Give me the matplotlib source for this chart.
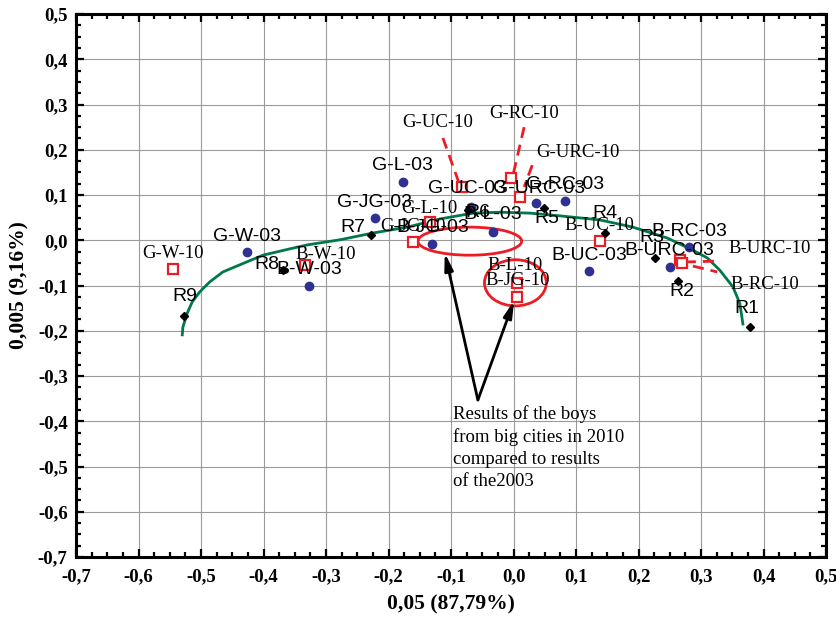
import matplotlib
matplotlib.use("Agg")
import matplotlib.pyplot as plt
from matplotlib.patches import Ellipse
from matplotlib.ticker import MultipleLocator, FuncFormatter

# --- data ---
names_03 = ["G-W-03", "B-W-03", "G-L-03", "G-JG-03", "B-JG-03", "B-L-03",
            "G-UC-03", "G-URC-03", "G-RC-03", "B-UC-03", "B-URC-03", "B-RC-03"]
x_03 = [-0.426, -0.327, -0.177, -0.222, -0.130, -0.033,
        -0.068, 0.036, 0.082, 0.121, 0.250, 0.281]
y_03 = [-0.026, -0.101, 0.129, 0.049, -0.008, 0.018,
        0.073, 0.082, 0.087, -0.068, -0.059, -0.015]

names_10 = ["G-W-10", "B-W-10", "G-L-10", "G-JG-10", "B-UC-10", "B-L-10",
            "B-JG-10", "G-UC-10", "G-RC-10", "G-URC-10", "B-URC-10", "B-RC-10"]
x_10 = [-0.545, -0.334, -0.134, -0.161, 0.138, 0.006,
        0.006, -0.082, -0.004, 0.010, 0.266, 0.270]
y_10 = [-0.064, -0.055, 0.040, -0.004, -0.002, -0.095,
        -0.125, 0.118, 0.138, 0.096, -0.044, -0.050]

names_r = ["R1", "R2", "R3", "R4", "R5", "R6", "R7", "R8", "R9"]
x_r = [0.378, 0.263, 0.226, 0.146, 0.049, -0.073, -0.228, -0.369, -0.527]
y_r = [-0.192, -0.090, -0.039, 0.016, 0.071, 0.067, 0.012, -0.066, -0.167]

curve_x = [-0.530, -0.529, -0.522, -0.514, -0.502, -0.486, -0.465, -0.434,
           -0.401, -0.358, -0.329, -0.278, -0.225, -0.170, -0.118, -0.065,
           -0.022, 0.026, 0.074, 0.138, 0.191, 0.246, 0.287, 0.310,
           0.330, 0.351, 0.362, 0.367]
curve_y = [-0.209, -0.192, -0.161, -0.136, -0.114, -0.092, -0.070, -0.052,
           -0.033, -0.019, -0.010, 0.001, 0.016, 0.029, 0.047, 0.060,
           0.062, 0.060, 0.054, 0.045, 0.029, 0.005, -0.022, -0.039,
           -0.066, -0.103, -0.139, -0.185]

note_text = "Results of the boys\nfrom big cities in 2010\ncompared to results\nof the2003"

SANS = "Liberation Sans"
SERIF = "Liberation Serif"
BLUE = "#2E3192"
RED = "#ED1C24"
GREEN = "#00784A"

fig = plt.figure(figsize=(8.37, 6.23), dpi=100)
ax = fig.add_axes([0.0908, 0.1059, 0.8961, 0.8716])

ax.set_xlim(-0.7, 0.5)
ax.set_ylim(-0.7, 0.5)
ax.xaxis.set_major_locator(MultipleLocator(0.1))
ax.yaxis.set_major_locator(MultipleLocator(0.1))
ax.xaxis.set_minor_locator(MultipleLocator(0.025))
ax.yaxis.set_minor_locator(MultipleLocator(0.025))
fmt = FuncFormatter(lambda v, p: f"{round(v, 1) + 0.0:.1f}".replace(".", ","))
ax.xaxis.set_major_formatter(fmt)
ax.yaxis.set_major_formatter(fmt)
ax.grid(True, which="major", color="#9a9a9a", lw=0.8)
ax.set_axisbelow(True)
ax.tick_params(which="both", direction="in", top=True, right=True, width=1.6)
ax.tick_params(which="major", length=6)
ax.tick_params(which="minor", length=3.5)
ax.tick_params(axis="x", pad=8)
ax.tick_params(axis="y", pad=6)
for lab in ax.get_xticklabels() + ax.get_yticklabels():
    lab.set_fontfamily(SERIF)
    lab.set_fontweight("bold")
    lab.set_fontsize(13.5)
for s in ax.spines.values():
    s.set_linewidth(2.2)

ax.set_xlabel("0,05 (87,79%)", family=SERIF, weight="bold", fontsize=15.5, labelpad=7)
ax.set_ylabel("0,005 (9,16%)", family=SERIF, weight="bold", fontsize=15.5, labelpad=6)

# fitted curve
ax.plot(curve_x, curve_y, color=GREEN, lw=2, zorder=3)

# points
ax.plot(x_03, y_03, "o", color=BLUE, ms=6, zorder=4)
ax.plot(x_10, y_10, "s", mfc="white", mec=RED, mew=1.6, ms=7, zorder=4)
ax.plot(x_r, y_r, "D", color="black", ms=4, zorder=4)

# label offsets in pixels (dx, dy up)
off_03 = {"B-L-03": (0, 18), "G-UC-03": (-4, 19), "G-URC-03": (3, 15)}
for n, x, y in zip(names_03, x_03, y_03):
    dx, dy = off_03.get(n, (0, 16))
    ax.annotate(n, (x, y), xytext=(dx, dy), textcoords="offset pixels",
                ha="center", va="center", family=SANS, fontsize=14, zorder=5)

off_10 = {"B-W-10": (21, 11), "G-L-10": (0, 14), "B-L-10": (-2, 18)}
leader = {
    "G-UC-10": ((-0.122, 0.261), (-0.113, 0.226), (-0.086, 0.122)),
    "G-RC-10": ((0.017, 0.281), (0.017, 0.250), (0.000, 0.149)),
    "G-URC-10": ((0.103, 0.193), (0.030, 0.166), (0.017, 0.118)),
    "B-URC-10": ((0.410, -0.019), (0.274, -0.048), (0.327, -0.046)),
    "B-RC-10": ((0.402, -0.097), (0.287, -0.057), (0.326, -0.070)),
}
for n, x, y in zip(names_10, x_10, y_10):
    if n in leader:
        (tx, ty), (ax0, ay0), (ax1, ay1) = leader[n]
        ax.text(tx, ty, n, ha="center", va="center", family=SERIF, fontsize=13.5, zorder=5)
        ax.plot([ax0, ax1], [ay0, ay1], color=RED, lw=2, ls=(0, (4, 2.5)), zorder=3)
        continue
    dx, dy = off_10.get(n, (0, 16))
    ax.annotate(n, (x, y), xytext=(dx, dy), textcoords="offset pixels",
                ha="center", va="center", family=SERIF, fontsize=13.5, zorder=5)

off_r = {"R1": (-3, 19), "R2": (4, -11), "R3": (-3, 20), "R4": (0, 20),
         "R5": (3, -10), "R6": (10, -3), "R7": (-18, 7), "R8": (-16, 6),
         "R9": (1, 19)}
for n, x, y in zip(names_r, x_r, y_r):
    dx, dy = off_r[n]
    ax.annotate(n, (x, y), xytext=(dx, dy), textcoords="offset pixels",
                ha="center", va="center", family=SANS, fontsize=14, zorder=5)

# callout
ax.add_patch(Ellipse((-0.070, -0.002), 0.166, 0.062, fill=False, ec=RED, lw=2, zorder=3))
ax.add_patch(Ellipse((0.003, -0.094), 0.099, 0.102, fill=False, ec=RED, lw=2, zorder=3))
for tip in [(-0.110, -0.028), (0.001, -0.133)]:
    ax.annotate("", xy=tip, xytext=(-0.057, -0.353),
                arrowprops=dict(arrowstyle="-|>,head_length=1.0,head_width=0.25",
                                color="black", lw=2, shrinkA=0, shrinkB=0), zorder=5)
ax.text(-0.097, -0.364, note_text, ha="left", va="top", family=SERIF,
        fontsize=13.5, linespacing=1.38, zorder=5)

fig.savefig("out.png", dpi=100)
